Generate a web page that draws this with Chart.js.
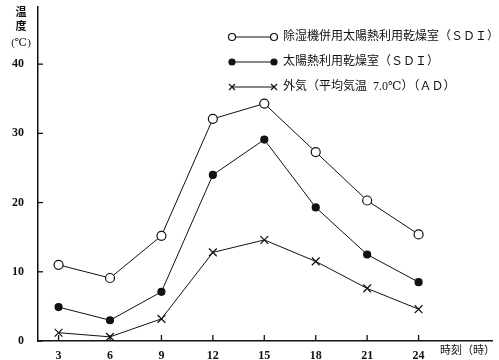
<!DOCTYPE html>
<html>
<head>
<meta charset="utf-8">
<script src="https://cdn.jsdelivr.net/npm/chart.js@4/dist/chart.umd.min.js"></script>
<style>
  html, body { margin: 0; padding: 0; background: #fff; }
  #wrap { width: 499px; height: 360px; position: relative; }
</style>
</head>
<body>
<div id="wrap"><canvas id="tempChart"></canvas></div>
<script>
// ── Data ──────────────────────────────────────────────────────────────────────

const HOURS = [3, 6, 9, 12, 15, 18, 21, 24];
const X_TICK_LABELS = ['3', '6', '9', '12', '15', '18', '21', '24'];
const Y_TICKS = [0, 10, 20, 30, 40];

const SDI_DEHUM = [11.0, 9.1, 15.2, 32.1, 34.3, 27.3, 20.3, 15.4];
const SDI_SOLAR = [4.9, 3.0, 7.1, 24.0, 29.1, 19.3, 12.5, 8.5];
const AD_OUTSIDE = [1.2, 0.6, 3.2, 12.8, 14.6, 11.5, 7.6, 4.6];

const SERIES_LABELS = [
  '除湿機併用太陽熱利用乾燥室（ＳＤＩ）',
  '太陽熱利用乾燥室（ＳＤＩ）',
  '外気（平均気温  7.0℃）（ＡＤ）',
];

const Y_TITLE = ['温', '度', '(℃)'];
const X_TITLE = '時刻（時）';

const FONT = "'Liberation Serif', 'DejaVu Serif', 'Noto Sans CJK JP', serif";

// ── Plugins ───────────────────────────────────────────────────────────────────

function drawMarker(ctx, ds, px, py) {
  ctx.save();
  ctx.strokeStyle = '#111';
  ctx.lineWidth = ds.pointBorderWidth;
  ctx.fillStyle = ds.pointBackgroundColor;
  if (ds.pointStyle === 'circle') {
    ctx.beginPath();
    ctx.arc(px, py, Math.max(ds.pointRadius - 1, 3), 0, Math.PI * 2);
    ctx.fill();
    ctx.stroke();
  } else {
    const r = 3;
    ctx.beginPath();
    ctx.moveTo(px - r, py - r); ctx.lineTo(px + r, py + r);
    ctx.moveTo(px - r, py + r); ctx.lineTo(px + r, py - r);
    ctx.stroke();
  }
  ctx.restore();
}

// inward tick marks, axis titles, marker-line-marker legend
const decorPlugin = {
  id: 'decor',
  afterDraw(chart) {
    const ctx = chart.ctx;
    const x = chart.scales.x, y = chart.scales.y;
    const area = chart.chartArea;
    ctx.save();
    ctx.strokeStyle = '#111';
    ctx.lineWidth = 1.3;
    // y ticks pointing right
    Y_TICKS.forEach(v => {
      const py = y.getPixelForValue(v);
      ctx.beginPath();
      ctx.moveTo(area.left, py);
      ctx.lineTo(area.left + 5, py);
      ctx.stroke();
    });
    // x ticks pointing up
    HOURS.forEach(v => {
      const px = x.getPixelForValue(v);
      ctx.beginPath();
      ctx.moveTo(px, area.bottom);
      ctx.lineTo(px, area.bottom - 6);
      ctx.stroke();
    });

    ctx.fillStyle = '#111';
    ctx.font = `bold 11px ${FONT}`;
    ctx.textAlign = 'center';
    ctx.textBaseline = 'middle';
    [13, 27].forEach((py, i) => ctx.fillText(Y_TITLE[i], 21, py));
    ctx.font = `11px ${FONT}`;
    ctx.fillText(Y_TITLE[2], 21, 43);

    ctx.textAlign = 'left';
    ctx.font = `11px ${FONT}`;
    ctx.fillText(X_TITLE, 440, 351);

    // legend
    const rows = [37, 62, 87];
    chart.data.datasets.forEach((ds, i) => {
      const ly = rows[i];
      const x1 = 232, x2 = 274;
      ctx.strokeStyle = '#111';
      ctx.lineWidth = 1.1;
      ctx.beginPath();
      ctx.moveTo(x1, ly);
      ctx.lineTo(x2, ly);
      ctx.stroke();
      drawMarker(ctx, ds, x1, ly);
      drawMarker(ctx, ds, x2, ly);
      ctx.fillStyle = '#111';
      ctx.font = `12px ${FONT}`;
      ctx.textBaseline = 'middle';
      ctx.fillText(ds.label, x2 + 9, ly);
    });
    ctx.restore();
  },
};

// ── Chart ─────────────────────────────────────────────────────────────────────

function series(values, label, style, fill, radius) {
  return {
    label,
    data: HOURS.map((h, i) => ({ x: h, y: values[i] })),
    borderColor: '#111',
    borderWidth: 1,
    pointStyle: style,
    pointRadius: radius,
    pointBorderWidth: 1.2,
    pointBorderColor: '#111',
    pointBackgroundColor: fill,
    tension: 0,
  };
}

new Chart(document.getElementById('tempChart'), {
  type: 'line',
  data: {
    datasets: [
      series(SDI_DEHUM, SERIES_LABELS[0], 'circle', '#fff', 4.5),
      series(SDI_SOLAR, SERIES_LABELS[1], 'circle', '#111', 3.5),
      series(AD_OUTSIDE, SERIES_LABELS[2], 'crossRot', '#111', 5.5),
    ],
  },
  options: {
    responsive: true,
    maintainAspectRatio: false,
    animation: false,
    layout: { padding: { top: 5, right: 5, left: 0, bottom: 0 } },
    plugins: { legend: { display: false }, tooltip: { enabled: false } },
    scales: {
      x: {
        type: 'linear',
        min: 1.8,
        max: 28.3,
        afterBuildTicks: s => { s.ticks = HOURS.map(v => ({ value: v })); },
        afterFit: s => { s.height = 19; s.paddingLeft = 0; s.paddingRight = 0; },
        ticks: {
          color: '#111',
          font: { family: FONT, size: 12, weight: 'bold' },
          padding: 0,
          maxRotation: 0,
          callback: v => X_TICK_LABELS[HOURS.indexOf(v)],
        },
        grid: { display: false },
        border: { display: true, color: '#111', width: 1.5 },
      },
      y: {
        min: 0,
        max: 48.3,
        afterBuildTicks: s => { s.ticks = Y_TICKS.map(v => ({ value: v })); },
        afterFit: s => { s.width = 38; s.paddingTop = 0; s.paddingBottom = 0; },
        ticks: {
          color: '#111',
          font: { family: FONT, size: 12, weight: 'bold' },
          padding: 6,
        },
        grid: { display: false },
        border: { display: true, color: '#111', width: 1.5 },
      },
    },
  },
  plugins: [decorPlugin],
});
</script>
</body>
</html>
